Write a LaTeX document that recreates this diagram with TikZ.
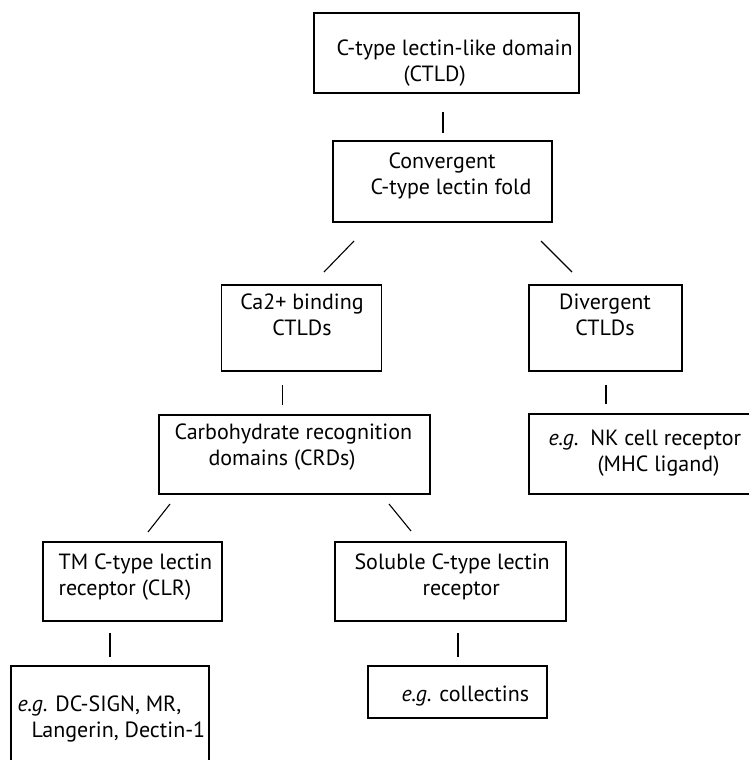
\documentclass[tikz,border=0pt]{standalone}
\usepackage{fontspec}
\setmainfont{PT Sans}
\begin{document}
\begin{tikzpicture}[x=1pt,y=-1pt,line width=1.1pt,
  box/.style={draw,rectangle,inner sep=0,outer sep=0},
  txt/.style={inner sep=0,anchor=base west,align=left,font=\fontsize{22}{26.5}\selectfont},
  link/.style={line width=1.1pt}]
\clip (0,0) rectangle (749,760);
\foreach \n/\x/\y/\w/\h in {ctld/446.5/53/265/80, fold/442.5/181.5/219/81, ca/301.5/328/160/86,
    div/605.5/328/153/86, crd/294.5/454.5/271/79, nk/645.5/454/233/80, tm/132.5/581.5/179/79,
    sol/450.5/581.5/231/79, dc/110/716.5/198/101, coll/457.5/692/179/52}
  \node [box,minimum width=\w,minimum height=\h] (\n) at (\x,\y) {};
% base of a two-line text is its second line
\node [txt] (ctld-t) at (336,81.5) {C-type lectin-like domain\\\hspace*{67pt}(CTLD)};
\node [txt] (fold-t) at (370,194.5) {\hspace*{18pt}Convergent\\C-type lectin fold};
\node [txt,anchor=base,align=center] (ca-t) at (302,335.5) {Ca2+ binding\\CTLDs};
\node [txt,anchor=base,align=center] (div-t) at (605,335.5) {Divergent\\CTLDs};
\node [txt] (crd-t) at (174,465.5) {Carbohydrate recognition\\\hspace*{34pt}domains (CRDs)};
\node [txt] (nk-t) at (548,471.5) {\textit{e.g.}\ \ NK cell receptor\\\hspace*{49pt}(MHC ligand)};
\node [txt] (tm-t) at (58,595.5) {TM C-type lectin\\receptor (CLR)};
\node [txt] (sol-t) at (354,595.5) {Soluble C-type lectin\\\hspace*{68pt}receptor};
\node [txt] (dc-t) at (17,737.5) {\textit{e.g.} DC-SIGN, MR,\\\hspace*{14pt}Langerin, Dectin-1};
\node [txt] (coll-t) at (401,701.5) {\textit{e.g.} collectins};
\foreach \a/\ax/\ay/\b/\bx/\by in {ctld/-3.5/19/fold/0.5/-8, fold/-88.5/19/ca/22.5/-13,
    fold/98.5/19/div/-33.5/-13, ca/-19/14/crd/-12/-10, div/0.5/14/nk/-39.5/-10,
    crd/-124.5/10/tm/15.5/-10, crd/94.5/10/sol/-39.5/-11, tm/-22.5/12/dc/0/-9,
    sol/7.5/12/coll/0.5/-9}
  \draw [link] ([shift={(\ax,\ay)}]\a.south) -- ([shift={(\bx,\by)}]\b.north);
\end{tikzpicture}
\end{document}
